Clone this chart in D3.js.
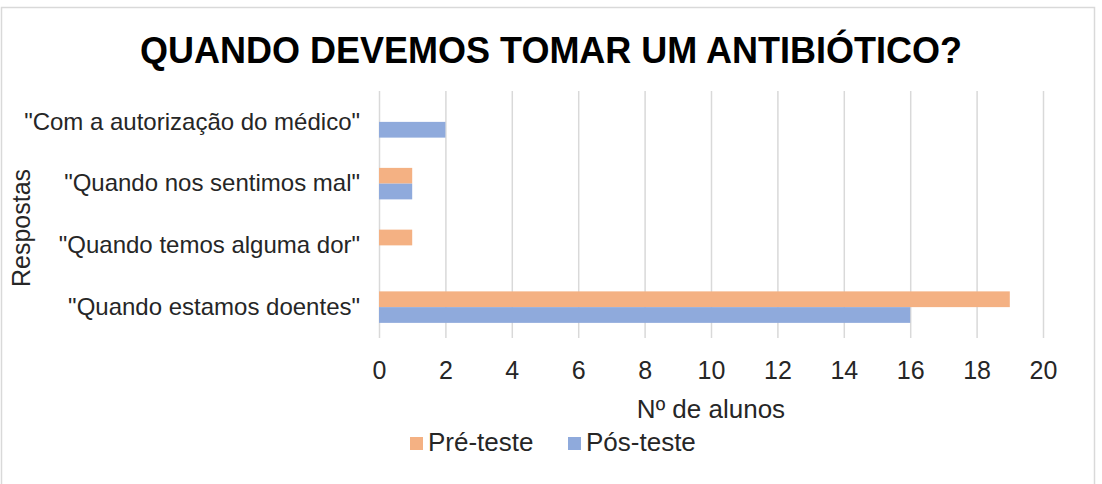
<!DOCTYPE html>
<html><head><meta charset="utf-8">
<script src="https://cdn.jsdelivr.net/npm/d3@7"></script>
<style>body{margin:0;background:#fff}svg{display:block}text{font-family:"Liberation Sans",Arial,sans-serif}</style>
</head><body>
<script>
const title = "QUANDO DEVEMOS TOMAR UM ANTIBIÓTICO?";
const categories = ["\"Com a autorização do médico\"", "\"Quando nos sentimos mal\"", "\"Quando temos alguma dor\"", "\"Quando estamos doentes\""];
const seriesNames = ["Pré-teste", "Pós-teste"];
const preTeste = [0, 1, 1, 19];
const posTeste = [2, 1, 0, 16];
const colors = ["#F4B183", "#8FAADC"];
const xTicks = [0, 2, 4, 6, 8, 10, 12, 14, 16, 18, 20];
const xTitle = "Nº de alunos";
const yTitle = "Respostas";

const W = 1102, H = 484;
const svg = d3.select("body").append("svg").attr("width", W).attr("height", H);
svg.append("rect").attr("x", 1.5).attr("y", 7.5).attr("width", 1093).attr("height", 490)
  .attr("fill", "#fff").attr("stroke", "#d9d9d9").attr("stroke-width", 1.5);

const x = d3.scaleLinear().domain([0, 20]).range([379, 1043]);
const y = d3.scaleBand().domain(categories).range([91, 338]).paddingInner(0.49).paddingOuter(0.245);
const ys = d3.scaleBand().domain(seriesNames).range([0, y.bandwidth()]);

svg.append("text").attr("x", 551).attr("y", 63).attr("text-anchor", "middle")
  .attr("font-size", 36).attr("font-weight", "bold").attr("fill", "#000").text(title);

const xAxis = d3.axisBottom(x).tickValues(xTicks).tickSize(-(338 - 91)).tickPadding(0).tickFormat(d3.format("d"));
const gx = svg.append("g").attr("transform", "translate(0,338)").call(xAxis);
gx.select(".domain").remove();
gx.selectAll(".tick line").attr("stroke", "#d9d9d9").attr("stroke-width", 1.5);
gx.selectAll(".tick text").attr("y", 41).attr("dy", null).attr("font-size", 25).attr("fill", "#262626")
  .style("font-family", "'Liberation Sans',Arial,sans-serif");

const data = categories.map((c, i) => ({cat: c, vals: [preTeste[i], posTeste[i]]}));
const g = svg.append("g");
data.forEach(d => {
  d.vals.forEach((v, j) => {
    if (v > 0) g.append("rect").attr("x", x(0)).attr("y", y(d.cat) + ys(seriesNames[j]))
      .attr("width", x(v) - x(0)).attr("height", ys.bandwidth()).attr("fill", colors[j]);
  });
});

const yAxis = d3.axisLeft(y).tickSize(0).tickPadding(19);
const gy = svg.append("g").attr("transform", "translate(379,0)").call(yAxis);
gy.select(".domain").remove();
gy.selectAll(".tick text").attr("font-size", 24).attr("fill", "#262626")
  .style("font-family", "'Liberation Sans',Arial,sans-serif");

svg.append("text").attr("x", 711).attr("y", 418).attr("text-anchor", "middle")
  .attr("font-size", 26).attr("fill", "#262626").text(xTitle);
svg.append("text").attr("transform", "translate(30,228) rotate(-90)").attr("text-anchor", "middle")
  .attr("font-size", 25).attr("fill", "#262626").text(yTitle);

const legX = [410, 568];
seriesNames.forEach((s, j) => {
  svg.append("rect").attr("x", legX[j]).attr("y", 437).attr("width", 13).attr("height", 13).attr("fill", colors[j]);
  svg.append("text").attr("x", legX[j] + 18).attr("y", 451).attr("font-size", 26).attr("fill", "#262626").text(s);
});
</script>
</body></html>
